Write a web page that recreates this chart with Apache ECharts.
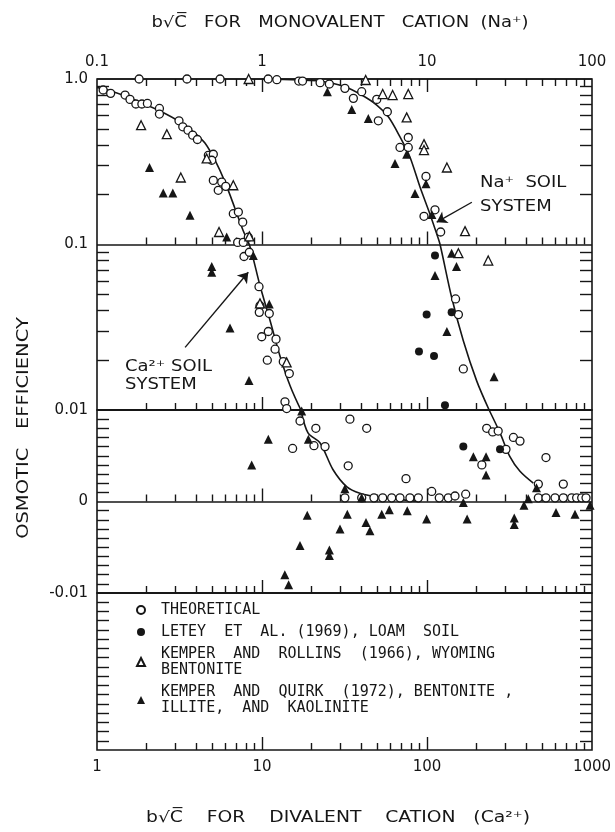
<!DOCTYPE html>
<html>
<head>
<meta charset="utf-8">
<title>Osmotic efficiency</title>
<script src="https://cdn.jsdelivr.net/npm/echarts@6.0.0/dist/echarts.min.js"></script>
<style>
  html, body { margin: 0; padding: 0; background: #fff; }
  #chart { width: 615px; height: 832px; }
</style>
</head>
<body>
<div id="chart"></div>
<script>
// tick labels
const bottomTickLabels = ['1', '10', '100', '1000'];
const topTickLabels = ['0.1', '1', '10', '100'];
const logTickLabels = ['0.01', '0.1', '1.0'];
const linTickLabels = ['-0.01', '0', ''];

// theory curves [b√C, efficiency]; Ca on the bottom axis, Na on the top axis
const caCurve = [
  [1.0, 0.89], [1.2, 0.85], [1.48, 0.79], [1.82, 0.725], [2.41, 0.64], [3.18, 0.55],
  [3.93, 0.47], [4.51, 0.41], [5.19, 0.323], [5.97, 0.238], [6.86, 0.165], [7.67, 0.122],
  [8.46, 0.097], [9.72, 0.0565], [11.2, 0.0346], [12.85, 0.0212], [14.8, 0.014], [17.2, 0.01],
  [19.0, 0.0075], [22.5, 0.0064], [26.9, 0.0035], [32.7, 0.0016], [39.2, 0.0009],
  [49.8, 0.0005], [68.6, 0.0002], [90, 0]
];
const naCurve = [
  [1.0, 1.0], [1.7, 0.986], [2.25, 0.972], [3.18, 0.898], [4.02, 0.8], [4.96, 0.696],
  [5.83, 0.591], [6.86, 0.447], [7.88, 0.338], [9.07, 0.2225], [10.4, 0.1535], [11.45, 0.116],
  [12.0, 0.1], [14.1, 0.048], [16.6, 0.0262], [20.0, 0.015], [23.8, 0.01], [27.7, 0.0075],
  [31.8, 0.0049], [36.6, 0.0033], [44.1, 0.002]
];

// THEORETICAL (open circles)
const caTheoretical = [
  [1.09, 0.858], [1.21, 0.819], [1.48, 0.8], [1.585, 0.753], [1.72, 0.706], [1.87, 0.706],
  [2.02, 0.712], [2.39, 0.664], [2.39, 0.614], [3.14, 0.559], [3.31, 0.514], [3.56, 0.491],
  [3.8, 0.458], [4.06, 0.431], [4.73, 0.346], [5.07, 0.351], [4.96, 0.323], [5.07, 0.244],
  [5.7, 0.2385], [5.43, 0.2125], [6.03, 0.2246], [6.7, 0.1535], [7.19, 0.157], [7.64, 0.1365],
  [7.12, 0.103], [7.7, 0.103], [8.26, 0.1107], [7.78, 0.0846], [8.38, 0.0898], [9.59, 0.0556],
  [9.72, 0.0427], [9.63, 0.0389], [11.07, 0.0383], [10.92, 0.0298], [9.96, 0.0277],
  [12.16, 0.0268], [12.0, 0.0233], [10.77, 0.02], [13.46, 0.0196], [14.64, 0.0166],
  [13.78, 0.0112], [14.11, 0.0102], [17.0, 0.0088], [21.2, 0.008], [15.33, 0.0058],
  [20.65, 0.0061], [24.1, 0.006], [34.1, 0.009], [43.1, 0.008], [33.3, 0.0039], [74.6, 0.0025],
  [31.8, 0.0004], [40.2, 0.0004], [47.7, 0.0004], [53.9, 0.0004], [61.1, 0.0004], [68.6, 0.0004],
  [78.8, 0.0004], [88.6, 0.0004], [106.8, 0.0011], [118.7, 0.0004], [134.6, 0.0004],
  [147.8, 0.0006], [171.6, 0.0008]
];
const naTheoretical = [
  [0.18, 1.0], [0.351, 1.0], [0.557, 1.0], [1.09, 1.0], [1.23, 0.99], [1.67, 0.972], [1.76, 0.972],
  [2.25, 0.95], [2.56, 0.933], [3.18, 0.878], [3.58, 0.764], [4.02, 0.838], [4.96, 0.753],
  [5.07, 0.559], [5.75, 0.634], [6.86, 0.386], [7.7, 0.443], [7.7, 0.386], [9.86, 0.258],
  [9.59, 0.148], [11.18, 0.162], [12.1, 0.119], [14.9, 0.0469], [15.5, 0.0377], [16.6, 0.0177],
  [23.0, 0.008], [25.0, 0.0076], [27.0, 0.0077], [30.1, 0.0057], [33.4, 0.007], [36.6, 0.0066],
  [52.6, 0.0048], [47.3, 0.0019], [67.0, 0.0019], [21.5, 0.004], [47.3, 0.0004], [52.6, 0.0004],
  [59.7, 0.0004], [67.0, 0.0004], [75.3, 0.0004], [80.7, 0.0004], [86.6, 0.0004], [92.0, 0.0004]
];

// LETEY ET AL. (1969), LOAM SOIL (filled circles)
const naLetey = [
  [11.18, 0.0858], [9.95, 0.0377], [14.1, 0.0389], [8.94, 0.0226], [11.03, 0.0212],
  [12.85, 0.0107], [16.6, 0.006], [27.7, 0.0057]
];

// KEMPER AND ROLLINS (1966) (open triangles)
const caRollins = [
  [1.85, 0.526], [2.65, 0.464], [3.22, 0.254], [4.62, 0.331], [6.7, 0.228], [5.49, 0.119],
  [8.38, 0.112], [9.72, 0.0441], [14.1, 0.0194]
];
const naRollins = [
  [0.83, 1.0], [4.25, 0.986], [5.39, 0.811], [6.19, 0.8], [7.7, 0.811], [7.53, 0.586],
  [9.59, 0.404], [9.59, 0.372], [13.2, 0.292], [17.0, 0.1205], [15.5, 0.0886], [23.5, 0.08]
];

// KEMPER AND QUIRK (1972) (filled triangles)
const caQuirk = [
  [2.08, 0.292], [2.52, 0.205], [2.88, 0.205], [3.66, 0.15], [6.11, 0.111], [8.86, 0.0858],
  [4.96, 0.0736], [4.96, 0.068], [11.07, 0.0437], [6.4, 0.0313], [8.34, 0.0151], [17.4, 0.0099],
  [10.92, 0.0068], [19.1, 0.0068], [8.66, 0.004], [31.8, 0.0014], [40.2, 0.0004],
  [18.8, -0.0015], [17.0, -0.0048], [25.6, -0.0053], [25.6, -0.0059], [29.7, -0.003],
  [13.75, -0.008], [14.5, -0.0091], [32.9, -0.0014], [42.7, -0.0023], [45.1, -0.0032],
  [53.2, -0.0014], [59.1, -0.0009], [75.9, -0.001], [99.5, -0.0019]
];
const naQuirk = [
  [2.49, 0.838], [3.5, 0.655], [4.41, 0.578], [6.4, 0.309], [7.53, 0.351], [8.46, 0.203],
  [9.86, 0.233], [10.7, 0.152], [14.1, 0.0886], [15.1, 0.0736], [11.18, 0.0649], [13.2, 0.0298],
  [25.5, 0.0159], [19.1, 0.0049], [22.8, 0.0049], [22.8, 0.0029], [46.1, 0.0015], [41.1, 0.0003],
  [38.7, -0.0004], [97.3, -0.0004], [60.5, -0.0012], [78.9, -0.0014], [16.6, -0.0001],
  [17.5, -0.0019], [33.8, -0.0018], [33.8, -0.0025]
];

const legendText = {
  theo: 'THEORETICAL',
  letey: 'LETEY  ET  AL. (1969), LOAM  SOIL',
  rollins: 'KEMPER  AND  ROLLINS  (1966), WYOMING\nBENTONITE',
  quirk: 'KEMPER  AND  QUIRK  (1972), BENTONITE ,\nILLITE,  AND  KAOLINITE'
};

const INK = '#161616';
const FONT = 'DejaVu Sans';

// the y scale is log above 0.01 and linear below it, so each set is split in two
const upper = pts => pts.filter(p => p[1] >= 0.01);
const lower = pts => pts.filter(p => p[1] < 0.01);
const upperLine = pts => pts.filter(p => p[1] >= 0.01);
const lowerLine = pts => pts.filter(p => p[1] <= 0.01);

// tick positions for the inside ticks
const xMajor = [10, 100];
const xMinor = [];
[1, 10, 100].forEach(d => { for (let k = 2; k <= 9; k++) xMinor.push(k * d); });
const logMinor = [];
[0.01, 0.1].forEach(d => { for (let k = 2; k <= 9; k++) logMinor.push(+(k * d).toFixed(3)); });
const linMinor = [];
for (let k = -9; k <= 9; k++) if (k !== 0) linMinor.push(k / 1000);
const boxMinor = [];
for (let k = 11; k <= 26; k++) boxMinor.push(-k / 1000);
const BOX_MIN = -0.027;
const MAJ = 13, MIN = 7, YL = 12;

const GA = { top: 79, height: 331 };
const GB = { top: 410, height: 183 };
const GC = { top: 593, height: 157 };

const lineSeries = (xi, yi, data, markLine) => ({
  type: 'line', xAxisIndex: xi, yAxisIndex: yi, data: data, symbol: 'none', smooth: 0.3,
  lineStyle: { color: INK, width: 1.6 }, silent: true, animation: false, z: 2,
  markLine: markLine
});

const markStyles = {
  theo: { symbol: 'circle', symbolSize: 8, itemStyle: { color: '#fff', borderColor: INK, borderWidth: 1.3, opacity: 1 } },
  letey: { symbol: 'circle', symbolSize: 8, itemStyle: { color: INK, borderColor: INK, borderWidth: 0, opacity: 1 } },
  rollins: { symbol: 'triangle', symbolSize: 9, itemStyle: { color: '#fff', borderColor: INK, borderWidth: 1.3, opacity: 1 } },
  quirk: { symbol: 'triangle', symbolSize: 9, itemStyle: { color: INK, borderColor: INK, borderWidth: 0, opacity: 1 } }
};
const scatter = (name, xi, yi, data) => Object.assign({
  type: 'scatter', name: name, xAxisIndex: xi, yAxisIndex: yi, data: data,
  silent: true, clip: false, animation: false, z: 4
}, markStyles[name]);

const arrow = (from, to) => ({
  silent: true, animation: false, symbol: ['none', 'arrow'], symbolSize: 10,
  lineStyle: { color: INK, width: 1.4, type: 'solid' }, label: { show: false },
  data: [[{ coord: from }, { coord: to }]]
});

const logX = (gi, min, max, pos, extra) => Object.assign({
  type: 'log', logBase: 10, gridIndex: gi, min: min, max: max, position: pos,
  axisLine: { show: false }, axisTick: { show: false }, splitLine: { show: false },
  axisLabel: { show: false }
}, extra);

// decoration axes that only carry inside ticks
const tickStyle = { color: INK, width: 1.4 };
const tickX = (gi, pos, values, len, offset) => ({
  type: 'log', logBase: 10, gridIndex: gi, min: 1, max: 1000, position: pos, offset: offset || 0,
  axisLine: { show: false, onZero: false },
  axisTick: { show: true, inside: true, length: len, customValues: values, lineStyle: tickStyle },
  axisLabel: { show: false }, splitLine: { show: false }, minorTick: { show: false }
});
const tickY = (gi, type, min, max, pos, values) => Object.assign({
  type: type, gridIndex: gi, min: min, max: max, position: pos,
  axisLine: { show: false, onZero: false },
  axisTick: { show: true, inside: true, length: YL, customValues: values, lineStyle: tickStyle },
  axisLabel: { show: false }, splitLine: { show: false }, minorTick: { show: false }
}, type === 'log' ? { logBase: 10 } : {});

const labelStyle = { color: INK, fontFamily: FONT, fontSize: 15 };

const txt = (x, y, text, o) => ({
  type: 'text', x: x, y: y, scaleX: (o && o.sx) || 1.2, rotation: (o && o.rot) || 0, silent: true,
  style: {
    text: text, fill: INK, fontFamily: FONT, fontSize: 15,
    align: (o && o.align) || 'left', verticalAlign: 'middle'
  }
});

const gridBase = { left: 97, right: 23, show: true, borderColor: INK, borderWidth: 1.6, backgroundColor: 'transparent', outerBoundsMode: 'none' };

const option = {
  backgroundColor: '#fff',
  animation: false,
  grid: [
    Object.assign({}, GA, gridBase),
    Object.assign({}, GB, gridBase),
    Object.assign({}, GC, gridBase)
  ],
  xAxis: [
    logX(0, 1, 1000, 'bottom', { axisLine: { show: false, onZero: false } }),
    logX(0, 0.1, 100, 'top', {
      axisLabel: Object.assign({ show: true, margin: 9,
        formatter: v => topTickLabels[Math.round(Math.log10(v)) + 1] }, labelStyle)
    }),
    logX(1, 1, 1000, 'bottom', { axisLine: { show: false, onZero: false } }),
    logX(1, 0.1, 100, 'top'),
    logX(2, 1, 1000, 'bottom', {
      axisLine: { show: false, onZero: false },
      axisLabel: Object.assign({ show: true, margin: 10,
        formatter: v => bottomTickLabels[Math.round(Math.log10(v))] }, labelStyle)
    }),
    // ticks on every horizontal rule
    tickX(0, 'top', xMajor, MAJ),
    tickX(0, 'top', xMinor, MIN),
    tickX(0, 'bottom', xMajor, MAJ, -GA.height / 2),
    tickX(0, 'bottom', xMinor, MIN, -GA.height / 2),
    tickX(0, 'bottom', xMajor, MAJ),
    tickX(0, 'bottom', xMinor, MIN),
    tickX(1, 'bottom', xMajor, MAJ, -GB.height / 2),
    tickX(1, 'bottom', xMinor, MIN, -GB.height / 2),
    tickX(1, 'bottom', xMajor, MAJ),
    tickX(1, 'bottom', xMinor, MIN),
    tickX(2, 'bottom', xMajor, MAJ),
    tickX(2, 'bottom', xMinor, MIN)
  ],
  yAxis: [
    {
      type: 'log', logBase: 10, gridIndex: 0, min: 0.01, max: 1,
      axisLine: { show: false, onZero: false }, axisTick: { show: false },
      splitLine: { show: true, lineStyle: { color: INK, width: 1.6 } },
      axisLabel: Object.assign({ margin: 9,
        formatter: v => logTickLabels[Math.round(Math.log10(v)) + 2] }, labelStyle)
    },
    {
      type: 'value', gridIndex: 1, min: -0.01, max: 0.01, interval: 0.01,
      axisLine: { show: false, onZero: false }, axisTick: { show: false },
      splitLine: { show: true, lineStyle: { color: INK, width: 1.6 } },
      axisLabel: Object.assign({ margin: 9,
        formatter: v => linTickLabels[Math.round(v / 0.01) + 1] }, labelStyle)
    },
    {
      type: 'value', gridIndex: 2, min: BOX_MIN, max: -0.01,
      axisLine: { show: false, onZero: false }, axisTick: { show: false },
      splitLine: { show: false }, axisLabel: { show: false }
    },
    // ticks on both sides of each section
    tickY(0, 'log', 0.01, 1, 'left', logMinor),
    tickY(0, 'log', 0.01, 1, 'right', logMinor),
    tickY(1, 'value', -0.01, 0.01, 'left', linMinor),
    tickY(1, 'value', -0.01, 0.01, 'right', linMinor),
    tickY(2, 'value', BOX_MIN, -0.01, 'left', boxMinor),
    tickY(2, 'value', BOX_MIN, -0.01, 'right', boxMinor)
  ],
  legend: {
    data: ['theo', 'letey', 'rollins', 'quirk'],
    formatter: n => legendText[n],
    orient: 'vertical', left: 131, top: 597, itemGap: 6,
    itemWidth: 8, itemHeight: 8, selectedMode: false,
    textStyle: { color: INK, fontFamily: 'DejaVu Sans Mono', fontSize: 15, lineHeight: 16, padding: [0, 0, 0, 11] }
  },
  graphic: [
    txt(340, 23, 'b\u221AC\u0305   FOR   MONOVALENT   CATION  (Na\u207A)', { align: 'center', sx: 1.2 }),
    txt(338, 818, 'b\u221AC\u0305    FOR    DIVALENT    CATION   (Ca\u00B2\u207A)', { align: 'center', sx: 1.25 }),
    txt(24, 428, 'OSMOTIC   EFFICIENCY', { align: 'center', rot: Math.PI / 2, sx: 1.3 }),
    txt(480, 183, 'Na\u207A  SOIL'),
    txt(480, 207, 'SYSTEM'),
    txt(125, 367, 'Ca\u00B2\u207A SOIL'),
    txt(125, 385, 'SYSTEM')
  ],
  series: [
    lineSeries(0, 0, upperLine(caCurve), arrow([3.42, 0.0239], [8.26, 0.068])),
    lineSeries(2, 1, lowerLine(caCurve)),
    lineSeries(1, 0, upperLine(naCurve), arrow([18.7, 0.18], [11.45, 0.1365])),
    lineSeries(3, 1, lowerLine(naCurve)),

    scatter('theo', 0, 0, upper(caTheoretical)),
    scatter('theo', 2, 1, lower(caTheoretical)),
    scatter('theo', 1, 0, upper(naTheoretical)),
    scatter('theo', 3, 1, lower(naTheoretical)),
    scatter('letey', 1, 0, upper(naLetey)),
    scatter('letey', 3, 1, lower(naLetey)),
    scatter('rollins', 0, 0, upper(caRollins)),
    scatter('rollins', 2, 1, lower(caRollins)),
    scatter('rollins', 1, 0, upper(naRollins)),
    scatter('rollins', 3, 1, lower(naRollins)),
    scatter('quirk', 0, 0, upper(caQuirk)),
    scatter('quirk', 2, 1, lower(caQuirk)),
    scatter('quirk', 1, 0, upper(naQuirk)),
    scatter('quirk', 3, 1, lower(naQuirk))
  ]
};

const chart = echarts.init(document.getElementById('chart'), null, { renderer: 'canvas' });
chart.setOption(option);
</script>
</body>
</html>
